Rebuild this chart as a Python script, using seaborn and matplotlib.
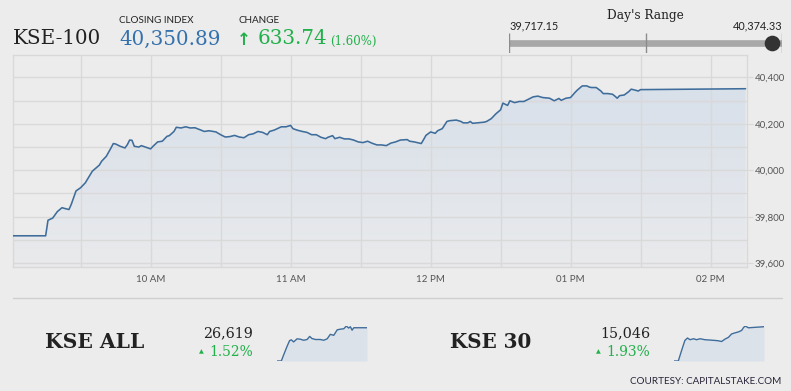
import numpy as np
import pandas as pd
import matplotlib
matplotlib.use('Agg')
import matplotlib.pyplot as plt
import matplotlib.dates as mdates
import seaborn as sns
from matplotlib.colors import LinearSegmentedColormap
from matplotlib.lines import Line2D

# KSE-100 intraday
kse100_times = [
    "09:01", "09:15", "09:16", "09:18", "09:20", "09:22", "09:23", "09:25", "09:26", "09:28",
    "09:30", "09:32", "09:34", "09:35", "09:38", "09:39", "09:41", "09:43", "09:44", "09:45",
    "09:47", "09:49", "09:50", "09:51", "09:52", "09:53", "09:55", "09:56", "09:58",
    "10:00", "10:01", "10:03", "10:05", "10:07", "10:08", "10:10", "10:11", "10:13", "10:15",
    "10:17", "10:19", "10:21", "10:23", "10:25", "10:28", "10:30", "10:32", "10:34", "10:36",
    "10:38", "10:40", "10:42", "10:44", "10:46", "10:48", "10:50", "10:51", "10:53", "10:56", "10:58",
    "11:00", "11:01", "11:03", "11:05", "11:07", "11:09", "11:11", "11:13", "11:15", "11:16",
    "11:18", "11:19", "11:21", "11:23", "11:25", "11:27", "11:29", "11:31", "11:33", "11:35",
    "11:37", "11:39", "11:41", "11:43", "11:45", "11:47", "11:50", "11:51", "11:53", "11:56",
    "11:57", "11:58",
    "12:00", "12:02", "12:03", "12:05", "12:07", "12:08", "12:11", "12:13", "12:14", "12:16",
    "12:17", "12:18", "12:20", "12:23", "12:24", "12:26", "12:28", "12:30", "12:31", "12:33",
    "12:34", "12:36", "12:38", "12:40", "12:42", "12:44", "12:46", "12:48", "12:51", "12:53",
    "12:55", "12:56", "12:58",
    "13:00", "13:02", "13:03", "13:05", "13:07", "13:08", "13:09", "13:11", "13:13", "13:14",
    "13:16", "13:18", "13:19", "13:20", "13:21", "13:23", "13:25", "13:26", "13:28", "13:29",
    "13:30", "14:15",
]
kse100_values = [
    39718, 39718, 39785, 39794, 39822, 39839, 39836, 39831, 39854, 39911,
    39925, 39946, 39979, 39996, 40022, 40039, 40060, 40096, 40115, 40113,
    40103, 40096, 40110, 40130, 40129, 40103, 40100, 40106, 40099,
    40092, 40103, 40122, 40125, 40146, 40149, 40167, 40185, 40182, 40187,
    40182, 40183, 40175, 40167, 40170, 40165, 40153, 40143, 40145, 40150,
    40143, 40140, 40153, 40157, 40167, 40163, 40153, 40167, 40173, 40187, 40187,
    40193, 40179, 40172, 40167, 40163, 40153, 40153, 40142, 40136, 40142,
    40149, 40136, 40142, 40135, 40135, 40130, 40122, 40119, 40125, 40116,
    40109, 40109, 40106, 40117, 40122, 40130, 40132, 40125, 40122, 40115,
    40132, 40150,
    40165, 40159, 40170, 40179, 40210, 40213, 40216, 40210, 40204, 40204,
    40210, 40202, 40204, 40207, 40210, 40222, 40243, 40260, 40289, 40279,
    40299, 40291, 40296, 40296, 40306, 40316, 40319, 40313, 40310, 40299,
    40309, 40301, 40310,
    40313, 40336, 40346, 40363, 40363, 40358, 40356, 40356, 40341, 40330,
    40330, 40327, 40319, 40310, 40321, 40324, 40339, 40349, 40344, 40341,
    40347, 40350.89,
]

# KSE ALL sparkline
kseall_times = ["09:01", "09:16", "09:24", "09:36", "09:45", "09:51", "09:59", "10:11", "10:22", "10:34",
                "10:46", "10:55", "11:03", "11:15", "11:32", "11:44", "11:56", "12:07", "12:19", "12:31",
                "12:42", "12:54", "13:03", "13:11", "13:17", "13:23", "13:29", "14:15"]
kseall_values = [26220, 26220, 26291, 26395, 26465, 26474, 26449, 26486, 26482, 26469,
                 26478, 26515, 26490, 26478, 26478, 26469, 26486, 26540, 26528, 26594,
                 26602, 26607, 26640, 26615, 26631, 26590, 26619, 26619]

# KSE 30 sparkline
kse30_times = ["09:01", "09:16", "09:28", "09:39", "09:48", "09:57", "10:09", "10:20", "10:32", "10:49",
               "11:07", "11:24", "11:36", "11:47", "11:59", "12:11", "12:22", "12:34", "12:46", "12:57",
               "13:03", "13:09", "13:21", "13:38", "14:15"]
kse30_values = [14761, 14761, 14852, 14932, 14952, 14938, 14946, 14938, 14946, 14938,
                14935, 14932, 14929, 14923, 14943, 14958, 14986, 14995, 15003, 15015,
                15037, 15052, 15037, 15040, 15046]

closing_index = 40350.89
change = 633.74
change_pct = 1.60
day_low = 39717.15
day_high = 40374.33

y_ticks = [39600, 39800, 40000, 40200, 40400]

sns.set_style('white')
plt.rcParams['font.family'] = ['Lato', 'DejaVu Sans']
SERIF = ['DejaVu Serif']

BG = '#ececec'
GRID = '#d9d9d9'
LINE = '#3f6d9b'
GREEN = '#22b04b'
DARK = '#222222'


def to_time(times):
    return pd.to_datetime(["2019-12-24 " + t for t in times])


def fx(x):
    return x / 791


def fy(y):
    return 1 - y / 391


fig = plt.figure(figsize=(7.91, 3.91), dpi=100, facecolor=BG)

# main chart
df = pd.DataFrame({'time': to_time(kse100_times), 'value': kse100_values})
ax = fig.add_axes([fx(13), fy(266.7), fx(746.7) - fx(13), fy(55) - fy(266.7)])
ax.set_facecolor(BG)
ymin, ymax = 39585, 40496
sns.lineplot(x='time', y='value', data=df, ax=ax, color=LINE, lw=1.15, zorder=3)
poly = ax.fill_between(df['time'], df['value'], ymin, color='none', lw=0)
tnum = mdates.date2num(df['time'])
cmap = LinearSegmentedColormap.from_list('fade', ['#e9eaec', '#d8e0ea'])
im = ax.imshow(np.linspace(0, 1, 256).reshape(-1, 1), cmap=cmap, aspect='auto', origin='lower',
               extent=[tnum[0], tnum[-1], ymin, max(kse100_values)], zorder=0.2)
im.set_clip_path(poly.get_paths()[0], transform=ax.transData)
x0 = df['time'].iloc[0]
x1 = df['time'].iloc[-1] + pd.Timedelta(seconds=30)
ax.set_xlim(x0, x1)
ax.set_ylim(ymin, ymax)

ax.yaxis.tick_right()
ax.set_yticks(y_ticks)
ax.set_yticklabels([f'{v:,}' for v in y_ticks])
ax.set_yticks(np.arange(39600, 40401, 100), minor=True)
ax.xaxis.set_major_locator(mdates.HourLocator())
ax.xaxis.set_major_formatter(mdates.DateFormatter('%I %p'))
ax.xaxis.set_minor_locator(mdates.MinuteLocator(byminute=[30]))
ax.grid(True, which='both', color=GRID, lw=1)
ax.set_axisbelow(False)
for g in ax.get_xgridlines() + ax.get_ygridlines():
    g.set_zorder(1)
ax.tick_params(axis='both', which='both', color=GRID, labelcolor='#555555', labelsize=7)
ax.tick_params(axis='y', which='major', length=4, pad=2)
ax.tick_params(axis='y', which='minor', length=0)
ax.tick_params(axis='x', which='both', length=5, pad=1)
for s in ax.spines.values():
    s.set_color(GRID)
    s.set_linewidth(1)
ax.set_xlabel('')
ax.set_ylabel('')

# header
fig.text(fx(13), fy(39), 'KSE-100', family=SERIF, fontsize=14.3, color=DARK, va='center')
fig.text(fx(119), fy(20.5), 'CLOSING INDEX', fontsize=7.1, color=DARK, va='center')
fig.text(fx(119), fy(39), f'{closing_index:,.2f}', family=SERIF, fontsize=14.3, color='#3572ad', va='center')
fig.text(fx(238), fy(20.5), 'CHANGE', fontsize=7.1, color=DARK, va='center')
fig.text(fx(237), fy(40), '\u2191', family=['DejaVu Sans'], fontsize=12, color=GREEN, va='center',
         weight='bold')
fig.text(fx(257.5), fy(39), f'{change:.2f}', family=SERIF, fontsize=14.3, color=GREEN, va='center')
fig.text(fx(330), fy(41), f'({change_pct:.2f}%)', family=SERIF, fontsize=8.5, color=GREEN, va='center')

# day's range bar
axr = fig.add_axes([fx(509.3), fy(53.3), fx(781.7) - fx(509.3), fy(33.3) - fy(53.3)])
axr.set_xlim(day_low, day_high)
axr.set_ylim(0, 1)
axr.axis('off')
axr.plot([day_low, day_high], [0.5, 0.5], color='#a8a8a8', lw=4.8, solid_capstyle='butt')
axr.vlines([day_low, (day_low + day_high) / 2, day_high], 0, 1, color='#8c8c8c', lw=1)
axr.scatter([closing_index], [0.5], s=105, color='#333333', zorder=5, clip_on=False)
fig.text(fx(645.5), fy(15), "Day's Range", family=SERIF, fontsize=8.7, color=DARK, ha='center', va='center')
fig.text(fx(509), fy(26), f'{day_low:,.2f}', fontsize=7.8, color=DARK, va='center')
fig.text(fx(782), fy(26), f'{day_high:,.2f}', fontsize=7.8, color=DARK, va='center', ha='right')

# separator
fig.add_artist(Line2D([fx(13), fx(782)], [fy(298.3), fy(298.3)], color='#cfcfcf', lw=1))


def sparkline(times, values, left, right):
    d = pd.DataFrame({'time': to_time(times), 'value': values})
    a = fig.add_axes([fx(left), fy(361), fx(right) - fx(left), fy(326) - fy(361)])
    sns.lineplot(x='time', y='value', data=d, ax=a, color=LINE, lw=1)
    lo = min(values)
    a.fill_between(d['time'], d['value'], lo, color='#dbe2ea', lw=0)
    a.set_xlim(d['time'].iloc[0], d['time'].iloc[-1])
    a.set_ylim(lo, max(values))
    a.axis('off')


fig.text(fx(45), fy(342), 'KSE ALL', family=SERIF, fontsize=14.6, weight='bold', color=DARK, va='center')
fig.text(fx(253), fy(333), '26,619', family=SERIF, fontsize=10.3, color=DARK, va='center', ha='right')
fig.text(fx(253), fy(352), '1.52%', family=SERIF, fontsize=10, color=GREEN, va='center', ha='right')
fig.text(fx(201), fy(352), '\u25b2', family=['DejaVu Sans'], fontsize=4.5, color=GREEN, va='center', ha='center')
sparkline(kseall_times, kseall_values, 277, 367)

fig.text(fx(450), fy(342), 'KSE 30', family=SERIF, fontsize=14.3, weight='bold', color=DARK, va='center')
fig.text(fx(650), fy(333), '15,046', family=SERIF, fontsize=10.3, color=DARK, va='center', ha='right')
fig.text(fx(650), fy(352), '1.93%', family=SERIF, fontsize=10, color=GREEN, va='center', ha='right')
fig.text(fx(598), fy(352), '\u25b2', family=['DejaVu Sans'], fontsize=4.5, color=GREEN, va='center', ha='center')
sparkline(kse30_times, kse30_values, 674, 764)

fig.text(fx(781), fy(382), 'COURTESY: CAPITALSTAKE.COM', fontsize=7.1, color='#2a2438', va='center', ha='right')

fig.savefig('out.png', dpi=100, facecolor=BG)
